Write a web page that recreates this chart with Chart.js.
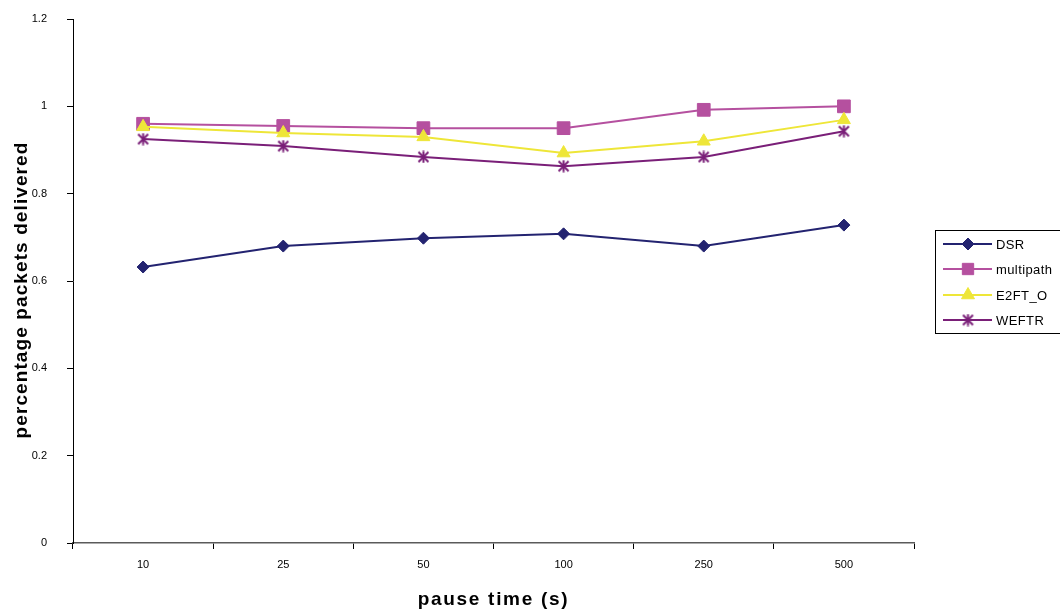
<!DOCTYPE html>
<html>
<head>
<meta charset="utf-8">
<script src="https://cdn.jsdelivr.net/npm/chart.js@4.4.1/dist/chart.umd.min.js"></script>
<style>
  html, body { margin: 0; padding: 0; background: #ffffff; }
  #wrap { width: 1060px; height: 613px; position: relative; }
</style>
</head>
<body>
<div id="wrap"><canvas id="c" width="1060" height="613"></canvas></div>
<script>
// Pause times on the x axis
const pauseTimes = ['10', '25', '50', '100', '250', '500'];

// Fraction of packets delivered per protocol
const dsr       = [0.632, 0.680, 0.698, 0.708, 0.680, 0.728];
const multipath = [0.960, 0.955, 0.950, 0.950, 0.992, 1.000];
const e2ftO     = [0.953, 0.939, 0.930, 0.893, 0.920, 0.969];
const weftr     = [0.925, 0.909, 0.884, 0.863, 0.884, 0.943];

// Y axis range
const yMin = 0, yMax = 1.2, yStep = 0.2;

// Axis titles
const xTitle = 'pause time (s)';
const yTitle = 'percentage packets delivered';

const FONT = '"Liberation Sans", Arial, sans-serif';

// Asterisk marker: an X crossed by a vertical stroke
function makeAsterisk(color, size) {
  const cv = document.createElement('canvas');
  cv.width = size; cv.height = size;
  const g = cv.getContext('2d');
  g.strokeStyle = color;
  g.lineWidth = 2;
  const m = 1.5, s = size - 1.5, c = size / 2;
  g.beginPath();
  g.moveTo(m, m); g.lineTo(s, s);
  g.moveTo(s, m); g.lineTo(m, s);
  g.moveTo(c, 0.5); g.lineTo(c, size - 0.5);
  g.stroke();
  return cv;
}
const asterisk = makeAsterisk('#7a1f78', 13);

const seriesDefs = [
  { label: 'DSR',       data: dsr,       color: '#232370', style: 'rectRot',  radius: 6 },
  { label: 'multipath', data: multipath, color: '#b5509f', style: 'rect',     radius: 9 },
  { label: 'E2FT_O',    data: e2ftO,     color: '#eee638', style: 'triangle', radius: 7.5 },
  { label: 'WEFTR',     data: weftr,     color: '#7a1f78', style: asterisk,   radius: 6 }
];

// Spaced bold axis titles
const axisTitles = {
  id: 'axisTitles',
  afterDraw(chart) {
    const ctx = chart.ctx;
    const area = chart.chartArea;
    ctx.save();
    ctx.fillStyle = '#000000';
    ctx.font = 'bold 19px ' + FONT;
    ctx.textAlign = 'center';
    ctx.textBaseline = 'middle';
    ctx.letterSpacing = '1.7px';
    ctx.fillText(xTitle, (area.left + area.right) / 2, 600);
    ctx.letterSpacing = '1.1px';
    ctx.translate(22, 290);
    ctx.rotate(-Math.PI / 2);
    ctx.fillText(yTitle, 0, 0);
    ctx.restore();
  }
};

// Boxed legend on the right: line segment with marker, then the name
const boxLegend = {
  id: 'boxLegend',
  afterDraw(chart) {
    const ctx = chart.ctx;
    const left = 935.5, top = 230.5, right = 1075, bottom = 333.5;
    ctx.save();
    ctx.strokeStyle = '#000000';
    ctx.lineWidth = 1;
    ctx.strokeRect(left, top, right - left, bottom - top);
    const rows = [244, 269, 295, 320];
    seriesDefs.forEach((s, i) => {
      const y = rows[i];
      ctx.strokeStyle = s.color;
      ctx.lineWidth = 2;
      ctx.beginPath();
      ctx.moveTo(943, y);
      ctx.lineTo(992, y);
      ctx.stroke();
      ctx.fillStyle = s.color;
      ctx.strokeStyle = s.color;
      ctx.lineWidth = 1;
      Chart.helpers.drawPoint(ctx, { pointStyle: s.style, radius: s.style === 'rect' ? 8 : s.radius, borderWidth: 1, rotation: 0 }, 968, y);
      ctx.fillStyle = '#000000';
      ctx.font = '13px ' + FONT;
      ctx.letterSpacing = '0.4px';
      ctx.textBaseline = 'middle';
      ctx.textAlign = 'left';
      ctx.fillText(s.label, 996, y + 1);
    });
    ctx.restore();
  }
};

new Chart(document.getElementById('c'), {
  type: 'line',
  data: {
    labels: pauseTimes,
    // later series are painted over earlier ones
    datasets: seriesDefs.map((s, i) => ({
      label: s.label,
      data: s.data,
      order: seriesDefs.length - i,
      borderColor: s.color,
      backgroundColor: s.color,
      borderWidth: 2,
      pointStyle: s.style,
      pointRadius: s.radius,
      pointBorderWidth: 1,
      pointBorderColor: s.color,
      pointBackgroundColor: s.color,
      tension: 0,
      fill: false
    }))
  },
  options: {
    responsive: false,
    animation: false,
    devicePixelRatio: 1,
    layout: { autoPadding: false, padding: { top: 19, right: 146, bottom: 0, left: 0 } },
    plugins: {
      legend: { display: false },
      tooltip: { enabled: false }
    },
    scales: {
      x: {
        type: 'category',
        offset: true,
        grid: {
          offset: true,
          drawOnChartArea: false,
          drawTicks: true,
          tickLength: 6,
          color: '#000000'
        },
        border: { color: '#5a5a5a', width: 1.5 },
        ticks: {
          color: '#000000',
          font: { family: FONT, size: 11 },
          padding: 9,
          maxRotation: 0
        },
        title: { display: false },
        afterFit(scale) { scale.height = 70; }
      },
      y: {
        min: yMin,
        max: yMax,
        grid: {
          drawOnChartArea: false,
          drawTicks: true,
          tickLength: 6,
          color: '#000000'
        },
        border: { color: '#000000', width: 1 },
        ticks: {
          stepSize: yStep,
          color: '#000000',
          font: { family: FONT, size: 11 },
          padding: 20,
          callback: v => String(Number(v.toFixed(1)))
        },
        title: { display: false },
        afterFit(scale) {
          scale.width = 73;
          scale.paddingTop = 7;
          scale.paddingBottom = 7;
        }
      }
    }
  },
  plugins: [axisTitles, boxLegend]
});
</script>
</body>
</html>
